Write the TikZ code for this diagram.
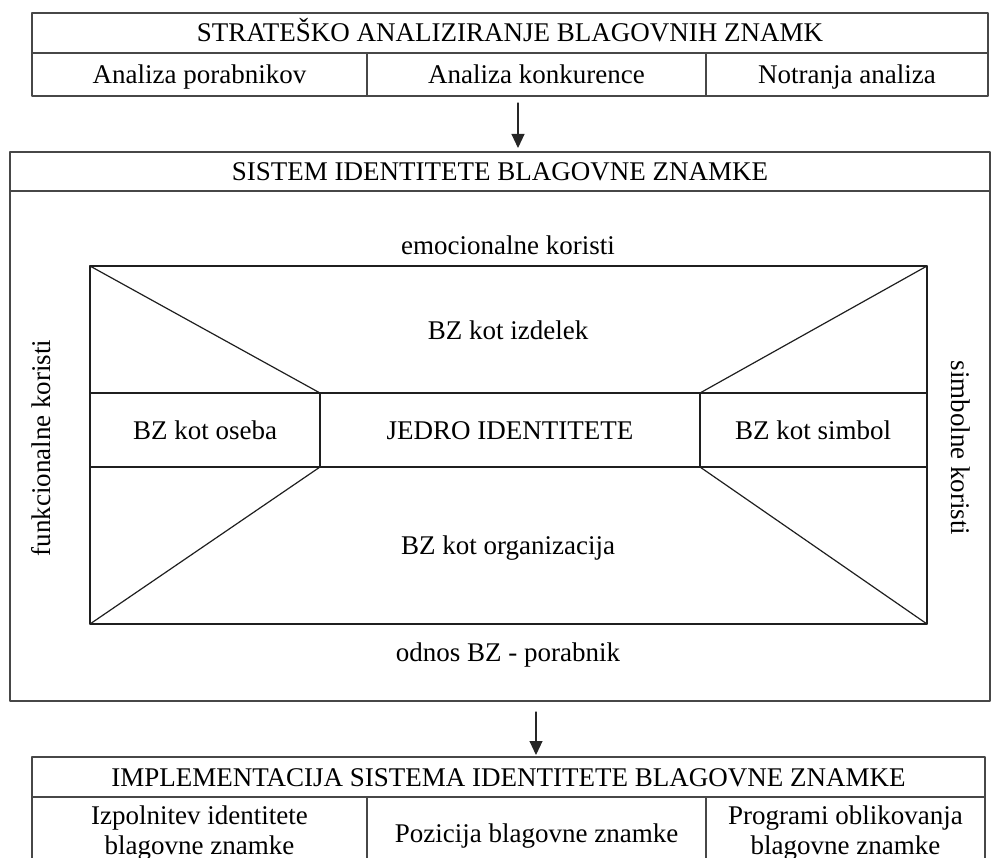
\documentclass[tikz,border=0pt]{standalone}
\usepackage{fontspec}
\setmainfont{Liberation Serif}
\usetikzlibrary{arrows.meta}

\begin{document}
\begin{tikzpicture}[x=1pt,y=-1pt,line cap=round,line join=round,
  font=\fontsize{27}{30}\selectfont,
  txt/.style={text height=19pt,text depth=6pt},
  cell/.style={draw=black!72,line width=1.4pt,rectangle,inner sep=0pt,outer sep=0pt,anchor=north west,align=center,text height=22pt,text depth=4pt},
  part/.style={black!88,line width=1.2pt},
  arr/.style={-{Triangle[length=14pt,width=13pt]},black!85,line width=1.1pt}]
\path[use as bounding box,clip] (0,0) rectangle (992,858);
% strategic analysis
\node[cell,minimum width=956pt,minimum height=40pt] (strat) at (32,13) {STRATEŠKO ANALIZIRANJE BLAGOVNIH ZNAMK};
\node[cell,minimum width=335pt,minimum height=43pt] (porab) at (strat.south west) {Analiza porabnikov};
\node[cell,minimum width=339pt,minimum height=43pt] (konk) at (porab.north east) {Analiza konkurence};
\node[cell,minimum width=282pt,minimum height=43pt] (notr) at (konk.north east) {Notranja analiza};
% identity system
\node[cell,minimum width=980pt,minimum height=39pt] (sist) at (10,152) {SISTEM IDENTITETE BLAGOVNE ZNAMKE};
\node[cell,minimum width=980pt,minimum height=510pt] (sistbody) at (sist.south west) {};
\coordinate (arrA) at (518,103);
\draw[arr,shorten >=4pt] (arrA) -- (arrA |- sist.north);
\coordinate (tl) at (90,266);
\coordinate (tr) at (927,266);
\coordinate (bl) at (90,624);
\coordinate (br) at (927,624);
\coordinate (ul) at (320,393);
\coordinate (ur) at (700,393);
\coordinate (ll) at (320,467);
\coordinate (lr) at (700,467);
\draw[part] (tl) rectangle (br);
\draw[part] (tl |- ul) -- (tr |- ur) (tl |- ll) -- (tr |- lr);
\draw[part] (ul) -- (ll) (ur) -- (lr);
\draw[part] (tl) -- (ul) (tr) -- (ur) (bl) -- (ll) (br) -- (lr);
\node[txt] (emoc) at (508,248) {emocionalne koristi};
\node[txt] (izdelek) at (508,333) {BZ kot izdelek};
\node[txt] (oseba) at (205,433) {BZ kot oseba};
\node[txt] (jedro) at (510,433) {JEDRO IDENTITETE};
\node[txt] (simbol) at (813,433) {BZ kot simbol};
\node[txt] (organ) at (508,548) {BZ kot organizacija};
\node[txt] (odnos) at (508,655) {odnos BZ - porabnik};
\node[txt,rotate=90] (funk) at (44,448) {funkcionalne koristi};
\node[txt,rotate=-90] (simbk) at (958,448) {simbolne koristi};
% implementation
\node[cell,minimum width=953pt,minimum height=40pt] (impl) at (32,757) {IMPLEMENTACIJA SISTEMA IDENTITETE BLAGOVNE ZNAMKE};
\node[cell,minimum width=335pt,minimum height=72pt,text height=,text depth=] (izpol) at (impl.south west) {Izpolnitev identitete\\blagovne znamke};
\node[cell,minimum width=339pt,minimum height=72pt] (pozic) at (izpol.north east) {Pozicija blagovne znamke};
\node[cell,minimum width=279pt,minimum height=72pt,text height=,text depth=] (progr) at (pozic.north east) {Programi oblikovanja\\blagovne znamke};
\coordinate (arrB) at (536,712);
\draw[arr,shorten >=2pt] (arrB) -- (arrB |- impl.north);
\end{tikzpicture}
\end{document}
